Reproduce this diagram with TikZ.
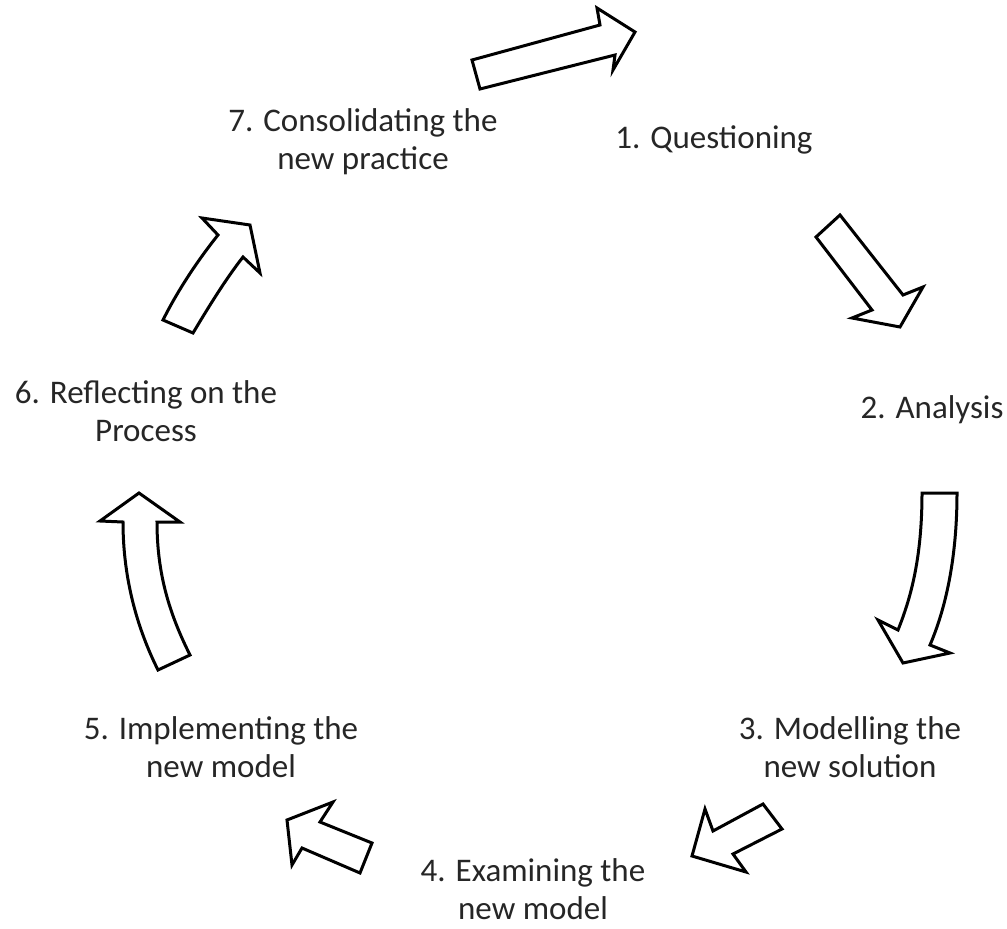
\documentclass[tikz,border=0pt]{standalone}
\usepackage{fontspec}
\setmainfont{Carlito}
\begin{document}
\begin{tikzpicture}[x=1pt,y=-1pt,
  lbl/.style={font=\fontsize{33}{38}\selectfont, text=black!85, align=center, inner sep=0pt},
  blockarrow/.style={draw=black, line width=3pt, fill=white, line join=miter}]
\useasboundingbox[fill=white] (0,0) rectangle (1007,929);

% labels
\node[lbl, anchor=base] (q1) at (714,148) {1. Questioning};
\node[lbl, anchor=base] (q2) at (932,418) {2. Analysis};
\node[lbl] (q3) at (850,747) {3. Modelling the\\new solution};
\node[lbl] (q4) at (533,889) {4. Examining the\\new model};
\node[lbl] (q5) at (221,747) {5. Implementing the\\new model};
\node[lbl] (q6) at (146,411) {6. Reflecting on the\\Process};
\node[lbl] (q7) at (363,142) {7. Consolidating the\\new practice};

% arrow 7 -> 1
\draw[blockarrow] (472,60) -- (600,25) -- (597,8) -- (635,32) -- (613,70) -- (615,55) -- (480,89) -- cycle;
% arrow 1 -> 2
\draw[blockarrow] (816,237) -- (840,215) -- (903,295) -- (923,287) -- (900,327) -- (852,318) -- (872,310) -- cycle;
% arrow 2 -> 3
\draw[blockarrow] (922,493) -- (957,493) .. controls (957,560) and (945,610) .. (930,645)
  -- (950,653) -- (903,663) -- (878,620) -- (898,630) .. controls (910,600) and (922,560) .. cycle;
% arrow 3 -> 4
\draw[blockarrow] (692,856) -- (705,809) -- (713,831) -- (763,804) -- (782,829) -- (733,854) -- (746,872) -- cycle;
% arrow 4 -> 5
\draw[blockarrow] (287,820) -- (333,802) -- (320,822) -- (372,843) -- (360,873) -- (302,848) -- (292,865) -- cycle;
% arrow 5 -> 6
\draw[blockarrow] (139,493) -- (180,522) -- (157,522) .. controls (157,575) and (170,615) .. (190,655)
  -- (158,670) .. controls (138,630) and (123,580) .. (123,522) -- (100,521) -- cycle;
% arrow 6 -> 7
\draw[blockarrow] (250,225) -- (260,273) -- (243,257) .. controls (225,280) and (208,308) .. (193,333)
  -- (163,320) .. controls (178,290) and (198,260) .. (218,235) -- (202,218) -- cycle;
\end{tikzpicture}
\end{document}
